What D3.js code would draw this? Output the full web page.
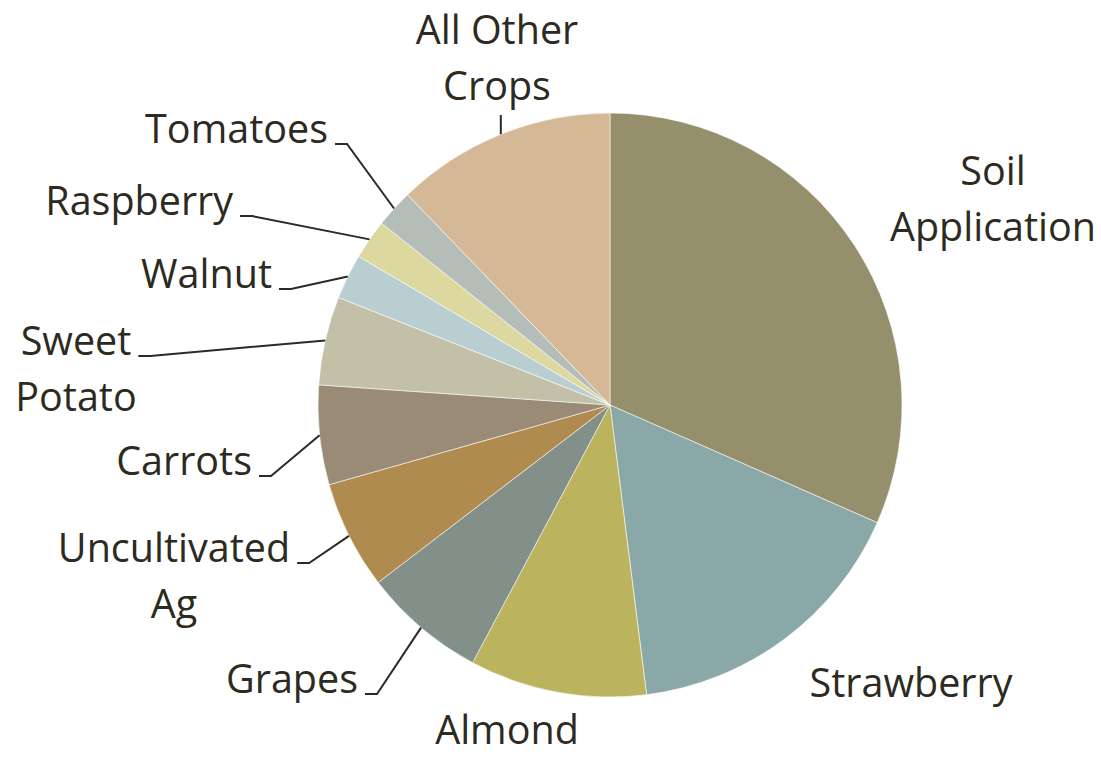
<!DOCTYPE html>
<html>
<head>
<meta charset="utf-8">
<script src="https://cdn.jsdelivr.net/npm/d3@7"></script>
<style>
  body { margin: 0; background: #fff; }
  svg text { font-family: "Open Sans", sans-serif; font-size: 39.5px; fill: #2d2a22; }
</style>
</head>
<body>
<div id="chart"></div>
<script>
// Slices, clockwise from 12 o'clock (share of total, %)
var crops = ["Soil Application", "Strawberry", "Almond", "Grapes", "Uncultivated Ag",
  "Carrots", "Sweet Potato", "Walnut", "Raspberry", "Tomatoes", "All Other Crops"];
var shares = [31.6, 16.4, 9.8, 6.8, 6.0, 5.5, 4.9, 2.5, 2.2, 2.1, 12.2];
var colors = ["#968f6c", "#8aa8a7", "#bbb35e", "#838f89", "#b08b4f",
  "#9a8b77", "#c3c0a8", "#b9ced0", "#ddd7a0", "#b5bdb9", "#d5b997"];

// label text lines
var labelLines = [["Soil", "Application"], ["Strawberry"], ["Almond"], ["Grapes"],
  ["Uncultivated", "Ag"], ["Carrots"], ["Sweet", "Potato"], ["Walnut"],
  ["Raspberry"], ["Tomatoes"], ["All Other", "Crops"]];

// label placement (anchor point of first line, text-anchor, leader type)
var labelLayout = [
  {x: 993, y: 185, anchor: "middle", leader: "none"},
  {x: 911, y: 697, anchor: "middle", leader: "none"},
  {x: 507, y: 744, anchor: "middle", leader: "none"},
  {x: 358, y: 693, anchor: "end", leader: "elbow"},
  {x: 174, y: 562, anchor: "middle", leader: "elbow"},
  {x: 252, y: 475, anchor: "end", leader: "elbow"},
  {x: 76, y: 355, anchor: "middle", leader: "elbow"},
  {x: 272, y: 288, anchor: "end", leader: "elbow"},
  {x: 233, y: 215, anchor: "end", leader: "elbow"},
  {x: 328, y: 143, anchor: "end", leader: "elbow"},
  {x: 497, y: 44, anchor: "middle", leader: "vertical"}
];

var svgWidth = 1101, svgHeight = 757;
var cx = 610, cy = 405, radius = 292;
var lineHeight = 56;

var svg = d3.select("#chart").append("svg")
  .attr("width", svgWidth)
  .attr("height", svgHeight);

var data = crops.map(function(c, i) {
  return {name: c, value: shares[i], color: colors[i], lines: labelLines[i], layout: labelLayout[i]};
});

var pie = d3.pie().sort(null).value(function(d) { return d.value; });
var arcs = pie(data);

var arc = d3.arc().innerRadius(0).outerRadius(radius);

var pieGroup = svg.append("g")
  .attr("transform", "translate(" + cx + "," + cy + ")");

pieGroup.selectAll("path")
  .data(arcs)
  .enter()
  .append("path")
  .attr("d", arc)
  .attr("fill", function(d) { return d.data.color; })
  .attr("stroke", "#ffffff")
  .attr("stroke-opacity", 0.7)
  .attr("stroke-width", 0.8);

// labels
var labelGroup = svg.append("g");

arcs.forEach(function(a) {
  var L = a.data.layout;
  var text = labelGroup.append("text")
    .attr("text-anchor", L.anchor);
  a.data.lines.forEach(function(line, j) {
    text.append("tspan")
      .attr("x", L.x)
      .attr("y", L.y + j * lineHeight)
      .text(line);
  });

  if (L.leader === "none") return;

  // point on the rim at the middle of the slice
  var mid = (a.startAngle + a.endAngle) / 2;
  var px = cx + radius * Math.sin(mid);
  var py = cy - radius * Math.cos(mid);

  var pts;
  if (L.leader === "vertical") {
    var lastLineY = L.y + (a.data.lines.length - 1) * lineHeight;
    pts = [[px, lastLineY + 15], [px, py]];
  } else {
    var firstWidth = text.select("tspan").node().getComputedTextLength();
    var right = L.anchor === "end" ? L.x : L.x + firstWidth / 2;
    var ly = L.y + 1;
    pts = [[right + 7, ly], [right + 19, ly], [px, py]];
  }

  labelGroup.append("path")
    .attr("d", d3.line()(pts))
    .attr("fill", "none")
    .attr("stroke", "#2d2a22")
    .attr("stroke-width", 2);
});
</script>
</body>
</html>
